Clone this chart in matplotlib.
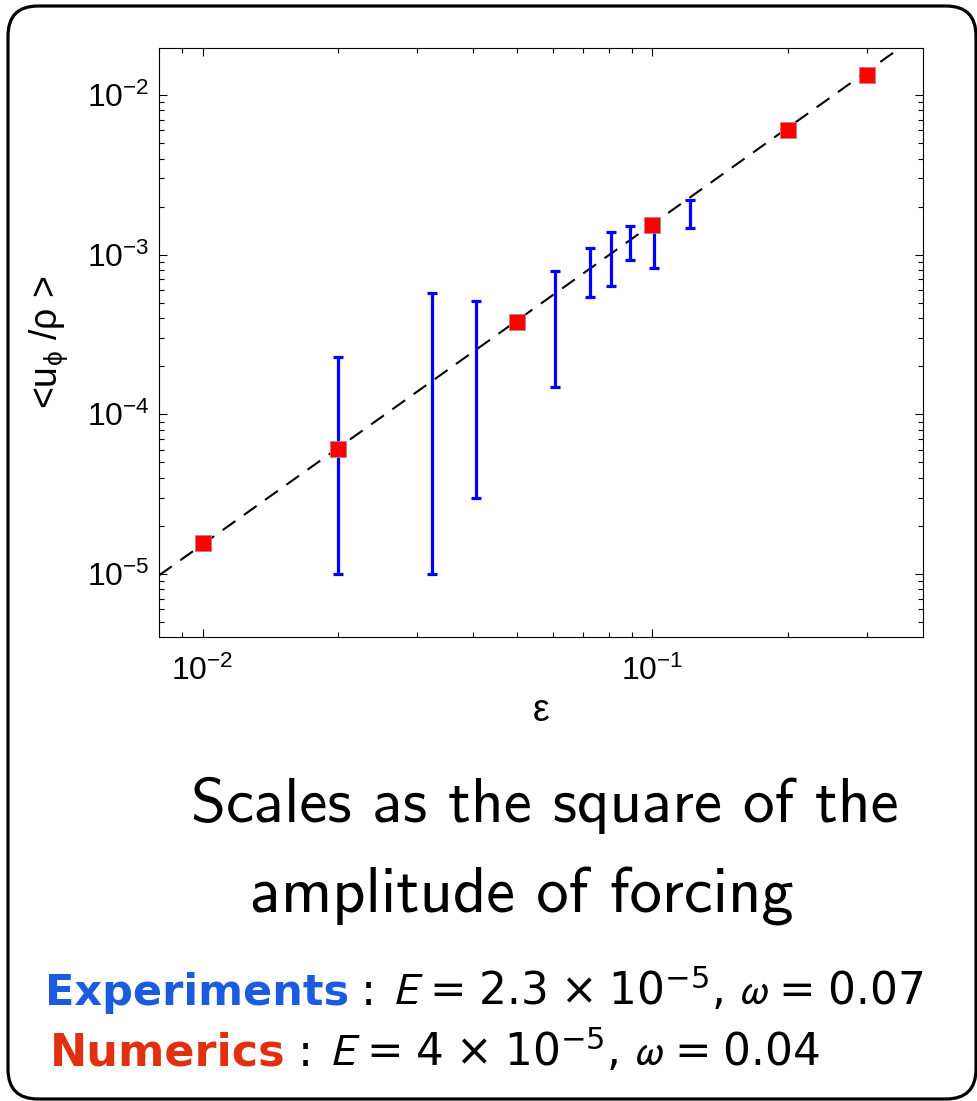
import matplotlib
matplotlib.use("Agg")
import matplotlib.pyplot as plt
from matplotlib.patches import FancyBboxPatch
from matplotlib.ticker import LogLocator, LogFormatterSciNotation, NullFormatter

# numerics (red squares)
num_eps = [0.01, 0.02, 0.05, 0.1, 0.2, 0.3]
num_vel = [1.57e-5, 6.1e-5, 3.8e-4, 1.53e-3, 6.0e-3, 1.33e-2]

# experiments (blue error bars: lower / upper bounds)
exp_eps = [0.02, 0.0324, 0.0406, 0.0607, 0.0728, 0.0809, 0.0891, 0.101, 0.1213]
exp_lo = [1.0e-5, 1.0e-5, 3.0e-5, 1.49e-4, 5.4e-4, 6.4e-4, 9.2e-4, 8.2e-4, 1.46e-3]
exp_hi = [2.3e-4, 5.75e-4, 5.15e-4, 7.9e-4, 1.1e-3, 1.39e-3, 1.51e-3, 1.6e-3, 2.2e-3]

# eps^2 fit line, end points
fit_eps = [0.008, 0.4]
fit_vel = [9.8e-6, 2.5e-2]

plt.rcParams["font.family"] = ["Liberation Sans", "DejaVu Sans"]
plt.rcParams["mathtext.fontset"] = "custom"
plt.rcParams["mathtext.rm"] = "Liberation Sans"
plt.rcParams["mathtext.it"] = "Liberation Sans:italic"
plt.rcParams["mathtext.sf"] = "Liberation Sans"
plt.rcParams["mathtext.default"] = "regular"

W, H, DPI = 978, 1101, 100
fig = plt.figure(figsize=(W / DPI, H / DPI), dpi=DPI)

# rounded frame round the whole slide (pixel units)
frame = FancyBboxPatch((8, H - 1099), 968, 1093,
                       boxstyle="round,pad=0,rounding_size=30",
                       transform=None, fill=False,
                       edgecolor="black", linewidth=2.3, zorder=0)
fig.patches.append(frame)

ax = fig.add_axes([159 / W, 1 - 636.7 / H, (922.7 - 159) / W, (636.7 - 48.3) / H])
ax.set_xscale("log")
ax.set_yscale("log")

ax.plot(fit_eps, fit_vel, color="black", lw=1.5, dashes=(7.5, 5), zorder=1)

yerr = [[0] * len(exp_eps), [h - l for l, h in zip(exp_lo, exp_hi)]]
ax.errorbar(exp_eps, exp_lo, yerr=yerr, fmt="none", ecolor="#0000ff",
            elinewidth=2.3, capsize=3.5, capthick=2.3, zorder=2)

ax.plot(num_eps, num_vel, "s", color="#ff0000", ms=11, mec="#c08080",
        mew=0.6, zorder=3)

ax.set_xlim(0.008, 0.399)
ax.set_ylim(4.05e-6, 0.0196)

for axis in (ax.xaxis, ax.yaxis):
    axis.set_major_locator(LogLocator(base=10, numticks=20))
    axis.set_minor_locator(LogLocator(base=10, subs=range(2, 10), numticks=20))
    axis.set_major_formatter(LogFormatterSciNotation())
    axis.set_minor_formatter(NullFormatter())

ax.tick_params(which="both", direction="in", top=True, right=True,
               width=0.8, colors="black")
ax.tick_params(which="major", length=6, labelsize=23)
ax.tick_params(axis="x", which="major", pad=14)
ax.tick_params(axis="y", which="major", pad=7)
ax.tick_params(which="minor", length=3.5)
for s in ax.spines.values():
    s.set_linewidth(0.8)

ax.set_xlabel("ε", fontsize=27, labelpad=4)
ax.set_ylabel(r"<u$_{\phi}$ /ρ >", fontsize=27, labelpad=12)

# caption, two centred lines
fig.text(545 / W, 1 - 822 / H, "Scales as the square of the",
         fontfamily="cmss10", fontsize=45.5, ha="center", va="baseline")
fig.text(522 / W, 1 - 912 / H, "amplitude of forcing",
         fontfamily="cmss10", fontsize=46.5, ha="center", va="baseline")

# parameter lines: coloured word, colon, then the formula
lines = [
    ("Experiments", "#1a5be0", 31, 45, 1005,
     r"$\mathit{E}\,=\,2.3\,\times\,10^{-5}$, $\mathit{\omega}\,=\,0.07$"),
    ("Numerics", "#e0300f", 32, 50, 1066,
     r"$\mathit{E}\,=\,4\,\times\,10^{-5}$, $\mathit{\omega}\,=\,0.04$"),
]
fig.canvas.draw()
renderer = fig.canvas.get_renderer()
for word, col, size, x0, yb, rest in lines:
    y = 1 - yb / H
    t = fig.text(x0 / W, y, word, color=col, fontsize=size,
                 fontweight="bold", fontfamily="DejaVu Sans", va="baseline")
    x1 = t.get_window_extent(renderer).x1
    c = fig.text((x1 + 12) / W, y, ":", fontsize=32, va="baseline",
                 fontfamily="DejaVu Sans")
    x2 = c.get_window_extent(renderer).x1
    fig.text((x2 + 16) / W, y, rest, fontsize=31.5, va="baseline",
             math_fontfamily="stixsans", fontfamily="DejaVu Sans")

fig.savefig("out.png", dpi=DPI)
